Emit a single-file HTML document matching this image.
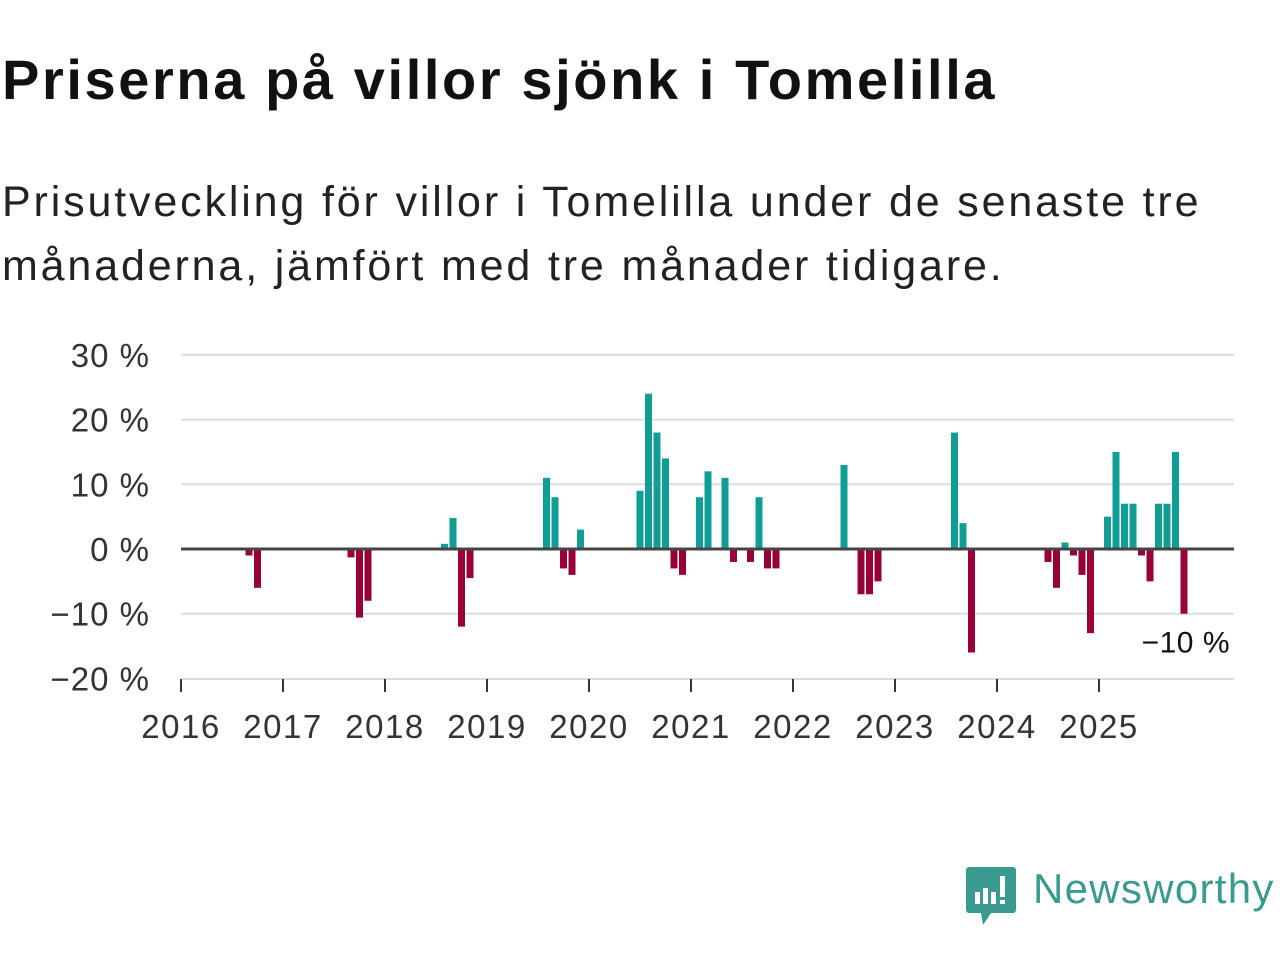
<!DOCTYPE html>
<html><head><meta charset="utf-8"><style>
body{margin:0;width:1280px;height:960px;background:#fff;overflow:hidden;font-family:"Liberation Sans",sans-serif;}
#title{position:absolute;left:2px;top:47px;font-size:56px;letter-spacing:2.6px;font-weight:bold;color:#111;margin:0;white-space:nowrap;}
#sub{position:absolute;left:2px;top:170px;font-size:43px;letter-spacing:2.85px;line-height:64px;color:#222;width:1275px;white-space:nowrap;}
svg{position:absolute;left:0;top:0;}
</style></head><body>
<h1 id="title">Priserna på villor sjönk i Tomelilla</h1>
<div id="sub">Prisutveckling för villor i Tomelilla under de senaste tre<br>månaderna, jämfört med tre månader tidigare.</div>
<svg id="chart" width="1280" height="960"></svg>
<script>
// month index since Jan 2016 and price change (%)
const monthIdx = [8,9,20,21,22,31,32,33,34,43,44,45,46,47,54,55,56,57,58,59,61,62,64,65,67,68,69,70,78,80,81,82,91,92,93,102,103,104,105,106,107,109,110,111,112,113,114,115,116,117,118];
const values   = [-1,-6,-1.3,-10.6,-8,0.8,4.8,-12,-4.5,11,8,-3,-4,3,9,24,18,14,-3,-4,8,12,11,-2,-2,8,-3,-3,13,-7,-7,-5,18,4,-16,-2,-6,1,-1,-4,-13,5,15,7,7,-1,-5,7,7,15,-10];
const yTicks = [30,20,10,0,-10,-20];
const yTickLabels = ["30 %","20 %","10 %","0 %","\u221210 %","\u221220 %"];
const xYears = [2016,2017,2018,2019,2020,2021,2022,2023,2024,2025];
const lastLabel = "\u221210 %";

const svg=document.getElementById('chart');
const NS='http://www.w3.org/2000/svg';
const y=v=>549-v*6.47;
const x=m=>181+m*8.5;
function mk(t,a){const e=document.createElementNS(NS,t);for(const k in a)e.setAttribute(k,a[k]);svg.appendChild(e);return e;}
yTicks.forEach((t,i)=>{
  if(t!==0&&t!==-20){const g=mk('line',{x1:181,x2:1234,y1:y(t),y2:y(t),stroke:'#dcdcdc','stroke-width':2});
  
  }
  const l=mk('text',{x:150,y:y(t)+12,'text-anchor':'end','font-size':33,'letter-spacing':1,fill:'#333'});
  l.textContent=yTickLabels[i];
  
  
});
const base=mk('line',{x1:181,x2:1234,y1:679,y2:679,stroke:'#dcdcdc','stroke-width':2});


monthIdx.forEach((m,i)=>{
  const v=values[i];
  const r=mk('rect',{x:x(m)-3.5,width:7,y:Math.min(y(v),y(0)),height:Math.abs(y(v)-y(0)),fill:v>=0?'#0f9e95':'#990038'});
  
  
});
const z=mk('line',{x1:181,x2:1234,y1:y(0),y2:y(0),stroke:'#444','stroke-width':3});


xYears.forEach(yr=>{
  const px=x((yr-2016)*12);
  const t=mk('line',{x1:px,x2:px,y1:679,y2:692,stroke:'#333','stroke-width':2});
  
  
  const l=mk('text',{x:px,y:738,'text-anchor':'middle','font-size':33,'letter-spacing':1.5,fill:'#333'});
  l.textContent=yr;
  
  
});
const li=monthIdx.length-1;
const ann=mk('text',{x:1230,y:y(values[li])+39,'text-anchor':'end','font-size':30,'letter-spacing':0.5,fill:'#111'});
ann.textContent=lastLabel;


</script>
<svg width="1280" height="960" style="pointer-events:none">
<path d="M969 867h44a3 3 0 0 1 3 3v40a3 3 0 0 1-3 3h-22l-8 12l-2-12h-12a3 3 0 0 1-3-3v-40a3 3 0 0 1 3-3z" fill="#3a9a8f"/>
<rect x="975" y="892" width="5" height="12" fill="#fff"/><rect x="983" y="888" width="5" height="16" fill="#fff"/><rect x="991" y="892" width="5" height="12" fill="#fff"/><rect x="1000" y="876" width="5" height="21" fill="#fff"/><rect x="1000" y="900" width="5" height="4" fill="#fff"/>
<text x="1033" y="903" font-size="42" letter-spacing="1.3" fill="#3a9a8f" font-family="Liberation Sans, sans-serif">Newsworthy</text>
</svg>
</body></html>
